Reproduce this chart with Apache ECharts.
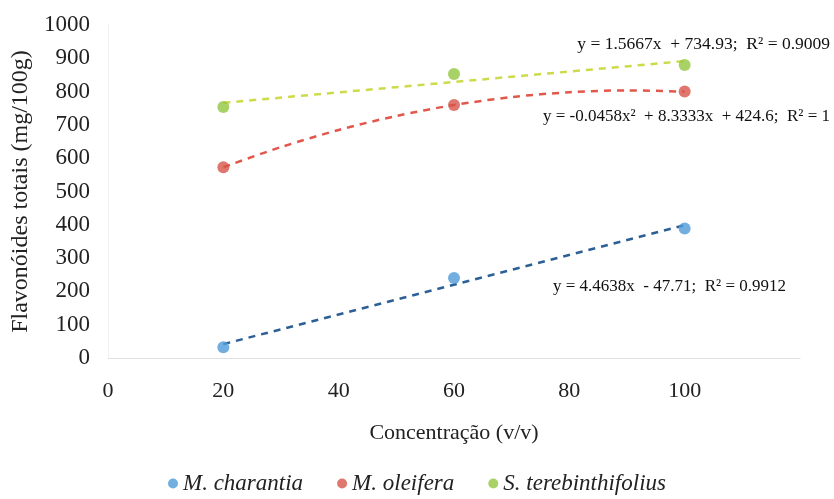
<!DOCTYPE html>
<html>
<head>
<meta charset="utf-8">
<script src="https://cdn.jsdelivr.net/npm/echarts@6/dist/echarts.min.js"></script>
<style>
html, body { margin: 0; padding: 0; background: #fff; }
#chart { width: 834px; height: 499px; }
</style>
</head>
<body>
<div id="chart"></div>
<script>
var concentracao = [20, 60, 100];
var charantia = [32, 240, 389];
var oleifera = [573, 760, 800];
var terebinthifolius = [754, 853, 880];

var charantiaTrend = [[20, 41.6], [100, 398.7]];
var terebinthTrend = [[20, 766.3], [100, 891.6]];
var oleiferaTrendX = [20, 30, 40, 50, 60, 70, 80, 90, 100];
var oleiferaTrendY = [572.9, 633.4, 684.7, 726.8, 759.7, 783.5, 798.1, 803.6, 799.9];

var nomes = ["M. charantia", "M. oleifera", "S. terebinthifolius"];
var equacoes = [
    "y = 4.4638x  - 47.71;  R² = 0.9912",
    "y = -0.0458x²  + 8.3333x  + 424.6;  R² = 1",
    "y = 1.5667x  + 734.93;  R² = 0.9009"
];

var fonte = "'Liberation Serif', 'DejaVu Serif', serif";

function pares(xs, ys) {
    var out = [];
    for (var i = 0; i < xs.length; i++) out.push([xs[i], ys[i]]);
    return out;
}

function pontos(nome, dados, cor) {
    return {
        name: nome, type: "scatter", data: pares(concentracao, dados),
        symbolSize: 12, itemStyle: { color: cor }, z: 5
    };
}

function tendencia(dados, cor, suave) {
    return {
        type: "line", data: dados, symbol: "none", smooth: suave ? 0.3 : false,
        lineStyle: { color: cor, width: 2.5, type: [7, 6] }, silent: true, z: 3
    };
}

var myChart = echarts.init(document.getElementById("chart"));
myChart.setOption({
    animation: false,
    textStyle: { fontFamily: fonte },
    grid: { left: 108, right: 34, top: 25, bottom: 141 },
    legend: {
        data: nomes, bottom: -1, left: "center", itemGap: 34,
        icon: "circle", itemWidth: 10, itemHeight: 10,
        textStyle: { fontFamily: fonte, fontSize: 23, fontStyle: "italic", color: "#222" }
    },
    xAxis: {
        type: "value", min: 0, max: 120, interval: 20,
        name: "Concentração (v/v)", nameLocation: "middle", nameGap: 64,
        nameTextStyle: { fontFamily: fonte, fontSize: 22, color: "#222" },
        axisLine: { show: true, lineStyle: { color: "#e0e0e0" } },
        axisTick: { show: false },
        splitLine: { show: false },
        axisLabel: {
            fontFamily: fonte, fontSize: 22, color: "#222", margin: 22,
            formatter: function (v) { return v > 100 ? "" : String(v); }
        }
    },
    yAxis: {
        type: "value", min: 0, max: 1000, interval: 100,
        name: "Flavonóides totais (mg/100g)", nameLocation: "middle", nameGap: 74,
        nameTextStyle: { fontFamily: fonte, fontSize: 24, color: "#222" },
        axisLine: { show: true, lineStyle: { color: "#f0f0f0" } },
        axisTick: { show: false },
        splitLine: { show: false },
        axisLabel: {
            fontFamily: fonte, fontSize: 23, color: "#222", margin: 18,
            formatter: function (v) { return String(v); }
        }
    },
    graphic: [
        { type: "text", right: 4, top: 35, style: { text: equacoes[2], font: "17.5px " + fonte, fill: "#111" } },
        { type: "text", right: 4, top: 108, style: { text: equacoes[1], font: "17px " + fonte, fill: "#111" } },
        { type: "text", left: 553, top: 278, style: { text: equacoes[0], font: "17px " + fonte, fill: "#111" } }
    ],
    series: [
        tendencia(charantiaTrend, "#2b5f95", false),
        tendencia(pares(oleiferaTrendX, oleiferaTrendY), "#e2574c", true),
        tendencia(terebinthTrend, "#cdda4a", false),
        pontos(nomes[0], charantia, "#4f9bd8"),
        pontos(nomes[1], oleifera, "#d7554b"),
        pontos(nomes[2], terebinthifolius, "#93c740")
    ]
});
</script>
</body>
</html>
